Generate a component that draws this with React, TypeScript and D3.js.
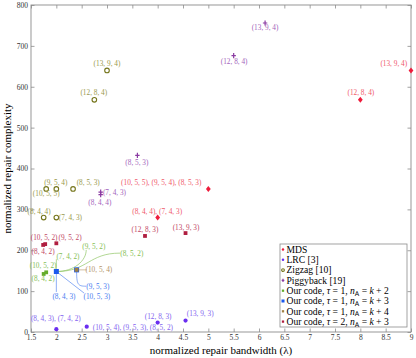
import React, { useEffect, useRef } from 'react';
import * as d3 from 'd3';

const xTicks = [1.5, 2, 2.5, 3, 3.5, 4, 4.5, 5, 5.5, 6, 6.5, 7, 7.5, 8, 8.5, 9];
const yTicks = [0, 100, 200, 300, 400, 500, 600, 700, 800];

// [bandwidth, complexity]
const mdsPts = [[9, 640], [8, 568], [5, 350], [4, 280]];
const lrcPts = [[2, 7], [2.6, 13], [4, 23], [4.55, 28]];
const zigzagPts = [[3, 640], [2.75, 568], [1.8, 350], [2, 350], [2.33, 350], [1.75, 280], [2, 280]];
const piggyPts = [[6.12, 756], [5.5, 676], [3.6, 432], [2.875, 342], [2.875, 336]];
const k2Pts = [[1.75, 142], [1.8, 146], [2, 148]];
const k3Pts = [[2.4, 152], [2, 148]];
const k4Pts = [[2.4, 152]];
const t2Pts = [[1.74, 213], [1.78, 215], [2, 217], [3.75, 235], [4.55, 242]];

const series = [
  { key: 'mds', pts: mdsPts, color: '#ee1c3c', label: '#ef5a6c', sym: 'diamond' },
  { key: 'lrc', pts: lrcPts, color: '#6a2ef0', label: '#8466f0', sym: 'dot' },
  { key: 'zig', pts: zigzagPts, color: '#76761c', label: '#9a9a4e', sym: 'ring' },
  { key: 'pig', pts: piggyPts, color: '#8a3aa2', label: '#a466bc', sym: 'plus' },
  { key: 'k2', pts: k2Pts, color: '#64ac2c', label: '#86c056', sym: 'square' },
  { key: 'k3', pts: k3Pts, color: '#1a58ee', label: '#4a7ef0', sym: 'bigsquare' },
  { key: 'k4', pts: k4Pts, color: '#a08044', label: '#b49468', sym: 'square' },
  { key: 't2', pts: t2Pts, color: '#b01e40', label: '#c24866', sym: 'square' },
];

// [series, text, x, y, anchor]
const labels = [
  ['mds', '(13, 9, 4)', 8.66, 658, 'middle'],
  ['mds', '(12, 8, 4)', 8.01, 585, 'middle'],
  ['mds', '(10, 5, 5), (9, 5, 4), (8, 5, 3)', 4.07, 367, 'middle'],
  ['mds', '(8, 4, 4), (7, 4, 3)', 3.99, 296, 'middle'],
  ['zig', '(13, 9, 4)', 3.0, 656, 'middle'],
  ['zig', '(12, 8, 4)', 2.74, 585, 'middle'],
  ['zig', '(9, 5, 4)', 1.99, 367, 'middle'],
  ['zig', '(8, 5, 3)', 2.63, 367, 'middle'],
  ['zig', '(10, 5, 5)', 1.8, 338, 'middle'],
  ['zig', '(8, 4, 4)', 1.66, 296, 'middle'],
  ['zig', '(7, 4, 3)', 2.05, 281, 'start'],
  ['pig', '(13, 9, 4)', 6.12, 744, 'middle'],
  ['pig', '(12, 8, 4)', 5.51, 661, 'middle'],
  ['pig', '(8, 5, 3)', 3.59, 416, 'middle'],
  ['pig', '(7, 4, 3)', 2.92, 342, 'start'],
  ['pig', '(8, 4, 4)', 2.86, 318, 'middle'],
  ['t2', '(12, 8, 3)', 3.75, 252, 'middle'],
  ['t2', '(13, 9, 3)', 4.56, 257, 'middle'],
  ['t2', '(10, 5, 2)', 1.76, 232, 'middle'],
  ['t2', '(9, 5, 2)', 2.27, 232, 'middle'],
  ['t2', '(8, 4, 2)', 1.74, 198, 'middle'],
  ['k2', '(7, 4, 2)', 2.23, 186, 'middle'],
  ['k2', '(9, 5, 2)', 2.74, 210, 'middle'],
  ['k2', '(8, 5, 2)', 3.49, 193, 'middle'],
  ['k2', '(10, 5, 2)', 1.74, 164, 'middle'],
  ['k2', '(8, 4, 2)', 1.74, 130, 'middle'],
  ['k4', '(10, 5, 4)', 2.84, 154, 'middle'],
  ['k3', '(9, 5, 3)', 2.82, 112, 'middle'],
  ['k3', '(8, 4, 3)', 2.15, 86, 'middle'],
  ['k3', '(10, 5, 3)', 2.8, 86, 'middle'],
  ['lrc', '(8, 4, 3), (7, 4, 2)', 1.99, 34, 'middle'],
  ['lrc', '(10, 5, 4), (9, 5, 3), (8, 5, 2)', 3.51, 12, 'middle'],
  ['lrc', '(12, 8, 3)', 4.01, 39, 'middle'],
  ['lrc', '(13, 9, 3)', 4.84, 46, 'middle'],
];

// [series, from, to, shape]
const leaders = [
  ['k2', [2, 148], [2, 178], 'line'],
  ['k2', [2, 148], [2.59, 201], 'up'],
  ['k2', [2, 148], [3.26, 193], 's'],
  ['k4', [2.4, 152], [2.6, 152], 'line'],
  ['k3', [2.4, 152], [2.59, 112], 'down'],
  ['k3', [2, 148], [2, 98], 'line'],
  ['k3', [2, 148], [2.55, 95], 'line'],
];

const legendItems = [
  ['mds', 'MDS'],
  ['lrc', 'LRC [3]'],
  ['zig', 'Zigzag [10]'],
  ['pig', 'Piggyback [19]'],
  ['k2', 'Our code', '1', '2'],
  ['k3', 'Our code', '1', '3'],
  ['k4', 'Our code', '1', '4'],
  ['t2', 'Our code', '2', '3'],
];

const FONT = '"Liberation Serif", "DejaVu Serif", serif';

const App = () => {
  const svgRef = useRef();

  useEffect(() => {
    const W = 416, H = 358;
    const margin = { top: 5, right: 5, bottom: 26, left: 31 };
    const svg = d3.select(svgRef.current).attr('width', W).attr('height', H);
    svg.selectAll('*').remove();

    const x = d3.scaleLinear().domain([1.5, 9]).range([margin.left, W - margin.right]);
    const y = d3.scaleLinear().domain([0, 800]).range([H - margin.bottom, margin.top]);
    const byKey = {};
    series.forEach(s => { byKey[s.key] = s; });

    const axisColor = '#8c8c8c';
    const styleAxis = g => {
      g.select('.domain').remove();
      g.selectAll('.tick line').attr('stroke', axisColor).attr('stroke-width', 0.8);
      g.selectAll('.tick text').attr('fill', '#333').style('font-family', FONT).style('font-size', '7.5px');
    };

    svg.append('g').attr('transform', `translate(0,${y(0)})`)
      .call(d3.axisBottom(x).tickValues(xTicks).tickSizeInner(-3.5).tickSizeOuter(0).tickPadding(2.5).tickFormat(d3.format('')))
      .call(styleAxis);
    svg.append('g').attr('transform', `translate(0,${y(800)})`)
      .call(d3.axisTop(x).tickValues(xTicks).tickSizeInner(-3.5).tickSizeOuter(0).tickFormat(''))
      .call(styleAxis);
    svg.append('g').attr('transform', `translate(${x(1.5)},0)`)
      .call(d3.axisLeft(y).tickValues(yTicks).tickSizeInner(-3.5).tickSizeOuter(0).tickPadding(3))
      .call(styleAxis);
    svg.append('g').attr('transform', `translate(${x(9)},0)`)
      .call(d3.axisRight(y).tickValues(yTicks).tickSizeInner(-3.5).tickSizeOuter(0).tickFormat(''))
      .call(styleAxis);

    svg.append('rect')
      .attr('x', x(1.5)).attr('y', y(800))
      .attr('width', x(9) - x(1.5)).attr('height', y(0) - y(800))
      .attr('fill', 'none').attr('stroke', axisColor).attr('stroke-width', 0.9);

    // leader lines
    leaders.forEach(([k, a, b, shape]) => {
      const p0 = [x(a[0]), y(a[1])];
      const p1 = [x(b[0]), y(b[1])];
      const dx = p1[0] - p0[0], dy = p1[1] - p0[1];
      let d;
      if (shape === 'line') d = `M${p0}L${p1}`;
      else if (shape === 'up') d = `M${p0}C${p0[0] + dx * 0.6},${p0[1]} ${p1[0]},${p1[1] - dy * 0.5} ${p1}`;
      else if (shape === 's') d = `M${p0}C${p0[0] + dx * 0.5},${p0[1]} ${p1[0] - dx * 0.5},${p1[1]} ${p1}`;
      else d = `M${p0}C${p0[0]},${p0[1] + dy * 0.9} ${p0[0] + dx * 0.1},${p1[1]} ${p1}`;
      svg.append('path').attr('d', d).attr('fill', 'none')
        .attr('stroke', byKey[k].label).attr('stroke-opacity', 0.8).attr('stroke-width', 0.8);
    });

    const drawMarker = (g, sym, color, cx, cy, s = 1) => {
      if (sym === 'diamond') {
        g.append('path').attr('d', `M${cx},${cy - 3 * s}L${cx + 2.4 * s},${cy}L${cx},${cy + 3 * s}L${cx - 2.4 * s},${cy}Z`).attr('fill', color);
      } else if (sym === 'dot') {
        g.append('circle').attr('cx', cx).attr('cy', cy).attr('r', 2.1 * s).attr('fill', color);
      } else if (sym === 'ring') {
        g.append('circle').attr('cx', cx).attr('cy', cy).attr('r', 2.3 * s).attr('fill', 'none').attr('stroke', color).attr('stroke-width', 1.1);
      } else if (sym === 'plus') {
        g.append('path').attr('d', `M${cx - 2.2 * s},${cy}H${cx + 2.2 * s}M${cx},${cy - 2.6 * s}V${cy + 2.6 * s}`).attr('stroke', color).attr('stroke-width', 1.2);
      } else if (sym === 'bigsquare') {
        g.append('rect').attr('x', cx - 2.5 * s).attr('y', cy - 2.5 * s).attr('width', 5 * s).attr('height', 5 * s).attr('fill', color);
      } else {
        g.append('rect').attr('x', cx - 1.9 * s).attr('y', cy - 1.9 * s).attr('width', 3.8 * s).attr('height', 3.8 * s).attr('fill', color);
      }
    };

    const marks = svg.append('g');
    series.forEach(s => {
      s.pts.forEach(([bx, cy]) => drawMarker(marks, s.sym, s.color, x(bx), y(cy)));
    });

    svg.append('g').selectAll('text').data(labels).join('text')
      .attr('x', d => x(d[2])).attr('y', d => y(d[3]))
      .attr('dy', '0.35em')
      .attr('text-anchor', d => d[4])
      .attr('fill', d => byKey[d[0]].label)
      .style('font-family', FONT).style('font-size', '7.3px')
      .text(d => d[1]);

    // axis titles
    svg.append('text')
      .attr('x', (x(1.5) + x(9)) / 2).attr('y', H - 4.5)
      .attr('text-anchor', 'middle')
      .style('font-family', FONT).style('font-size', '11px')
      .text('normalized repair bandwidth (λ)');
    svg.append('text')
      .attr('transform', `translate(11,${(y(0) + y(800)) / 2}) rotate(-90)`)
      .attr('text-anchor', 'middle')
      .style('font-family', FONT).style('font-size', '11px')
      .text('normalized repair complexity');

    // legend
    const lg = svg.append('g').attr('transform', 'translate(280,244)');
    lg.append('rect').attr('width', 127).attr('height', 83)
      .attr('fill', 'white').attr('stroke', axisColor).attr('stroke-width', 0.8);
    legendItems.forEach((it, i) => {
      const ry = 5.5 + i * 10.3;
      drawMarker(lg, byKey[it[0]].sym, byKey[it[0]].color, 3, ry, 0.6);
      const t = lg.append('text').attr('x', 6.5).attr('y', ry).attr('dy', '0.35em')
        .style('font-family', FONT).style('font-size', '9.6px');
      if (it.length === 2) {
        t.text(it[1]);
      } else {
        t.append('tspan').text(`${it[1]}, `);
        t.append('tspan').style('font-style', 'italic').text('τ');
        t.append('tspan').text(` = ${it[2]}, `);
        t.append('tspan').style('font-style', 'italic').text('n');
        t.append('tspan').attr('dy', '0.25em').style('font-size', '6.5px')
          .style('font-family', '"DejaVu Sans", sans-serif').text('A');
        t.append('tspan').attr('dy', '-0.17em').text(' = ');
        t.append('tspan').style('font-style', 'italic').text('k');
        t.append('tspan').text(` + ${it[3]}`);
      }
    });

    return () => {
      d3.select(svgRef.current).selectAll('*').remove();
    };
  }, []);

  return (
    <svg ref={svgRef} style={{ position: 'absolute', left: 0, top: 0, background: 'white' }}></svg>
  );
};

export default App;
